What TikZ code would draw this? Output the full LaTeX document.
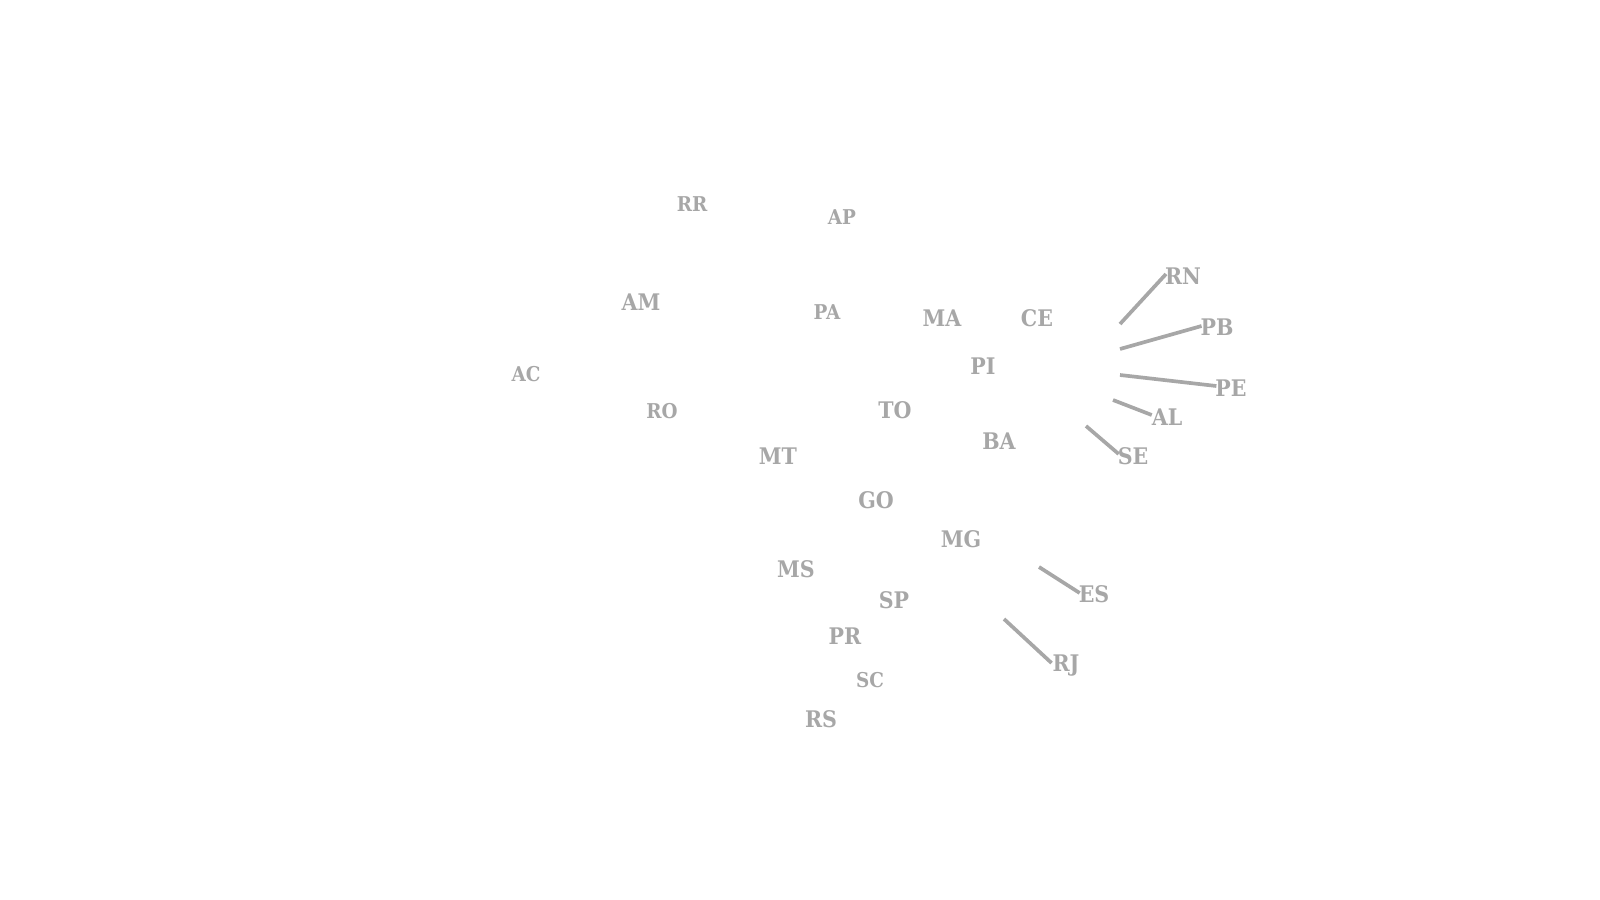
\documentclass[tikz,border=0pt]{standalone}
\usepackage{fontspec}
\setmainfont{DejaVu Serif Condensed}
\usepackage{tikz}
\definecolor{labelgray}{HTML}{A7A7A7}

\begin{document}
\begin{tikzpicture}[x=0.01cm, y=-0.01cm, semithick,
	uf/.style={inner sep=0pt, text=labelgray, font=\fontsize{6.5}{8}\selectfont\bfseries},
	ufsmall/.style={uf, font=\fontsize{5.8}{7}\selectfont\bfseries},
	leader/.style={draw=labelgray, line width=1.05pt}]
	\useasboundingbox (0, 0) rectangle (1600, 900);

	\node[ufsmall] (RR) at (692, 204) {RR};
	\node[ufsmall] (AP) at (842, 217) {AP};
	\node[uf] (AM) at (641, 302) {AM};
	\node[ufsmall] (PA) at (827, 312) {PA};
	\node[uf] (MA) at (942, 318) {MA};
	\node[uf] (CE) at (1037, 318) {CE};
	\node[uf] (PI) at (983, 366) {PI};
	\node[ufsmall] (AC) at (526, 374) {AC};
	\node[ufsmall] (RO) at (662, 411) {RO};
	\node[uf] (TO) at (895, 410) {TO};
	\node[uf] (BA) at (999, 441) {BA};
	\node[uf] (MT) at (778, 456) {MT};
	\node[uf] (GO) at (876, 500) {GO};
	\node[uf] (MG) at (961, 539) {MG};
	\node[uf] (MS) at (796, 569) {MS};
	\node[uf] (SP) at (894, 600) {SP};
	\node[uf] (PR) at (845, 636) {PR};
	\node[ufsmall] (SC) at (870, 680) {SC};
	\node[uf] (RS) at (821, 719) {RS};

	\node[uf] (RN) at (1183, 276) {RN};
	\node[uf] (PB) at (1217, 327) {PB};
	\node[uf] (PE) at (1231, 388) {PE};
	\node[uf] (AL) at (1167, 417) {AL};
	\node[uf] (SE) at (1133, 456) {SE};
	\node[uf] (ES) at (1094, 594) {ES};
	\node[uf] (RJ) at (1066, 666) {RJ};

	\coordinate (rn0) at (1120, 324);
	\coordinate (pb0) at (1120, 349);
	\coordinate (pe0) at (1120, 375);
	\coordinate (al0) at (1113, 400);
	\coordinate (se0) at (1086, 426);
	\coordinate (es0) at (1039, 567);
	\coordinate (rj0) at (1004, 619);

	\path[leader] (rn0) -- ([xshift=0.02cm, yshift=0.02cm]RN.west)
		(pb0) -- ([xshift=0.02cm, yshift=0.01cm]PB.west)
		(pe0) -- ([xshift=0.02cm, yshift=0.02cm]PE.west)
		(al0) -- ([xshift=0.01cm, yshift=0.02cm]AL.west)
		(se0) -- ([xshift=0.02cm, yshift=0.02cm]SE.west)
		(es0) -- ([xshift=0.02cm, yshift=0.01cm]ES.west)
		(rj0) -- ([yshift=0.03cm]RJ.west);
\end{tikzpicture}
\end{document}
